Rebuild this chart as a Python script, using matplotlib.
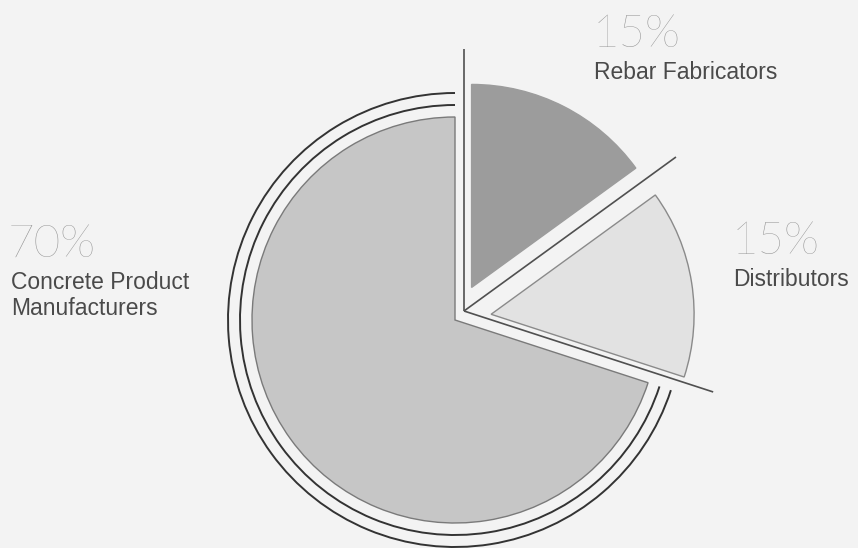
import numpy as np
import matplotlib
matplotlib.use("Agg")
import matplotlib.pyplot as plt
from matplotlib.patches import Arc

# data
labels = ["Rebar Fabricators", "Distributors", "Concrete Product\nManufacturers"]
shares = [15, 15, 70]
pct_text = ["15%", "15%", "70%"]
colors = ["#9c9c9c", "#e2e2e2", "#c6c6c6"]
explode = [0.18, 0.18, 0.0]   # fraction of the radius

W, H = 858, 548
bg = "#f3f3f3"

fig = plt.figure(figsize=(W / 100, H / 100), dpi=100, facecolor=bg)
ax = fig.add_axes([0, 0, 1, 1])

cx, cy, r = 455, H - 320, 203

# pie() takes explode in data units, so scale by the radius
wedges, _ = ax.pie(shares, colors=colors, startangle=90, counterclock=False,
                   explode=[e * r for e in explode], center=(cx, cy), radius=r,
                   frame=True, wedgeprops=dict(linewidth=1.0, edgecolor="#8a8a8a"))
wedges[0].set_edgecolor(colors[0])
wedges[2].set_edgecolor("#7a7a7a")
ax.set_xlim(0, W)
ax.set_ylim(0, H)
ax.set_aspect("equal")
ax.axis("off")

# slice boundary angles
ang = 90 - 360 * np.cumsum([0] + shares) / sum(shares)   # 90, 36, -18, -270

# double ring around the big slice
for rr in (r + 12, r + 24):
    ax.add_patch(Arc((cx, cy), 2 * rr, 2 * rr, theta1=90, theta2=ang[2] % 360,
                     color="#333333", lw=1.4))

# outline lines around the exploded small slices
ox, oy = cx + 9, cy + 9
L = 262
for a in ang[:3]:
    t = np.deg2rad(a)
    ax.plot([ox, ox + L * np.cos(t)], [oy, oy + L * np.sin(t)],
            color="#505050", lw=1.2, solid_capstyle="butt")

# labels
pct_font = dict(family=["Lato", "DejaVu Sans"], fontweight="light",
                fontsize=33, color="#8e8e8e")
lab_font = dict(family=["Liberation Sans", "DejaVu Sans"], fontsize=16.5,
                color="#4a4a4a")
pos = [(593, 47, 594, 79), (732, 254, 733, 286), (8, 257, 11, 289)]
for p, l, (px, py, lx, ly) in zip(pct_text, labels, pos):
    ax.text(px, H - py, p, ha="left", va="baseline", **pct_font)
    for i, line in enumerate(l.split("\n")):
        ax.text(lx, H - ly - 26 * i, line, ha="left", va="baseline", **lab_font)

fig.savefig("out.png", dpi=100, facecolor=bg)
